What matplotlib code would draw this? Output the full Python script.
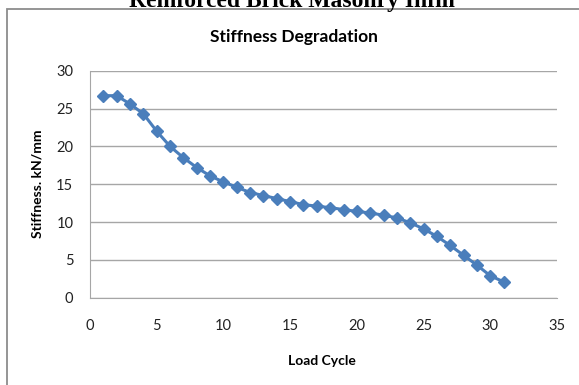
import numpy as np
import matplotlib
matplotlib.use('Agg')
import matplotlib.pyplot as plt
from matplotlib.patches import Rectangle

# stiffness per load cycle
cycle = np.arange(1, 32)
stiff = [26.7, 26.7, 25.6, 24.3, 22.0, 20.0, 18.5, 17.2, 16.1, 15.3,
         14.6, 13.9, 13.5, 13.1, 12.7, 12.3, 12.1, 11.9, 11.65, 11.4,
         11.2, 10.9, 10.55, 9.9, 9.1, 8.1, 6.9, 5.6, 4.3, 2.9, 2.1]
xticks = [0, 5, 10, 15, 20, 25, 30, 35]
yticks = [0, 5, 10, 15, 20, 25, 30]

plt.rcParams['font.family'] = 'Lato'

fig = plt.figure(figsize=(5.79, 3.85), dpi=100)
ax = fig.add_axes([90/579, 1 - 297.7/385, (557 - 90)/579, (297.7 - 70.7)/385])

# outer chart frame, runs off the right and bottom of the picture
fig.patches.append(Rectangle((7.5/579, -0.1), 1.2, 1 - 9.3/385 + 0.1,
                             transform=fig.transFigure, fill=False,
                             edgecolor='#8c8c8c', linewidth=1.3))

# clipped heading of the page above the chart
fig.text(0.505, 1 - 7/385, 'Reinforced Brick Masonry Infill', ha='center',
         va='baseline', family='Liberation Serif', weight='bold', fontsize=17)

ax.plot(cycle, stiff, '-D', color='#4a7ebb', lw=2.2, ms=6.5, mec='#4a7ebb')

ax.set_xlim(0, 35)
ax.set_ylim(0, 30)
ax.set_xticks(xticks)
ax.set_yticks(yticks)
ax.grid(axis='y', color='#a6a6a6', lw=1)
ax.set_axisbelow(True)
for s in ['top', 'right']:
    ax.spines[s].set_visible(False)
for s in ['left', 'bottom']:
    ax.spines[s].set_color('#a6a6a6')
ax.tick_params(length=0, labelsize=10.5, colors='#222222')
ax.tick_params(axis='x', pad=15)
ax.tick_params(axis='y', pad=12)

fig.text(294/579, 1 - 37/385, 'Stiffness Degradation', ha='center',
         va='center', weight='bold', fontsize=12.5)
fig.text(322/579, 1 - 361/385, 'Load Cycle', ha='center', va='center',
         weight='bold', fontsize=10)
fig.text(38/579, 1 - 184/385, 'Stiffness. kN/mm', ha='center', va='center',
         rotation=90, weight='bold', fontsize=10)

fig.savefig('out.png', dpi=100)
